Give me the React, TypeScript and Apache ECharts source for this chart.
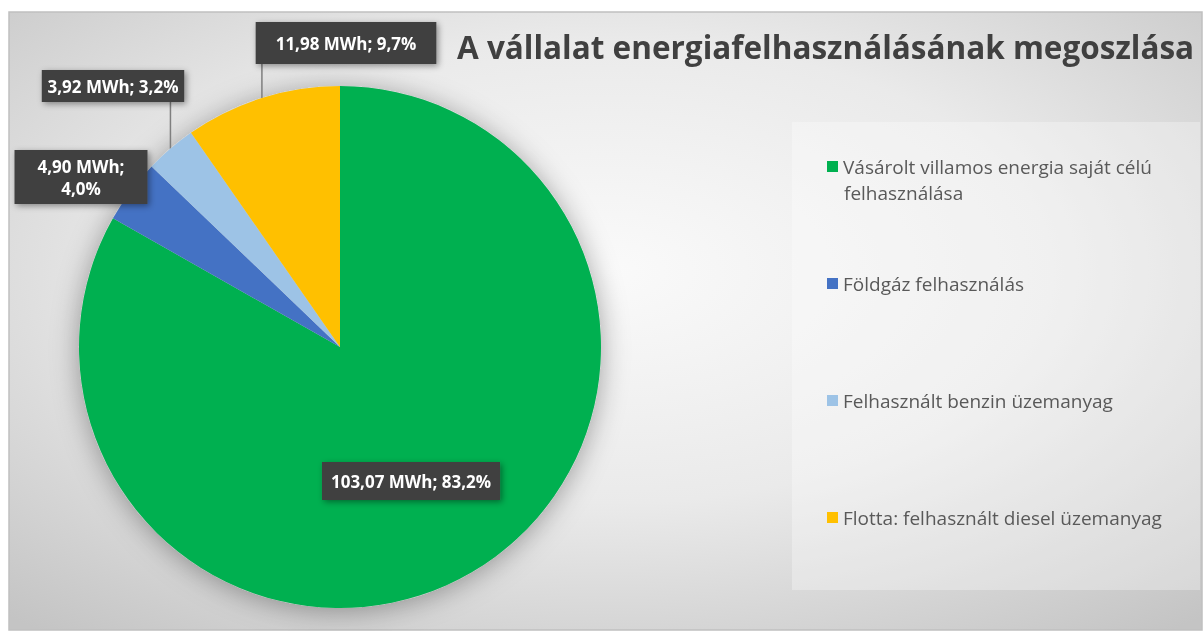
import React, { useEffect, useRef } from 'react';
import * as echarts from 'echarts';

const categories = [
  'Vásárolt villamos energia saját célú felhasználása',
  'Földgáz felhasználás',
  'Felhasznált benzin üzemanyag',
  'Flotta: felhasznált diesel üzemanyag',
];
const values = [103.07, 4.9, 3.92, 11.98];
const unit = 'MWh';
const titleText = 'A vállalat energiafelhasználásának megoszlása';
const legendFirstLine = 'Vásárolt villamos energia saját célú';
const legendSecondLine = 'felhasználása';

const colors = ['#00B050', '#4472C4', '#9DC3E6', '#FFC000'];
const labelCenters = [
  [411, 481],
  [81, 177],
  [113, 86],
  [346, 43],
];
const labelPaddings = [
  [8, 9],
  [5, 19],
  [5, 11],
  [10, 20],
];
const legendTops = [157, 274, 391, 508];
const FONT = 'Open Sans';

export default function App() {
  const ref = useRef<HTMLDivElement>(null);
  useEffect(() => {
    if (!ref.current) return;
    const chart = echarts.init(ref.current, null, { renderer: 'svg' });
    const total = values.reduce((a, b) => a + b, 0);
    const fmt = (p: any) => {
      const v = Number(p.value).toFixed(2).replace('.', ',');
      const pct = ((p.value / total) * 100).toFixed(1).replace('.', ',');
      return p.dataIndex === 1 ? `${v} ${unit};\n${pct}%` : `${v} ${unit}; ${pct}%`;
    };
    const option: any = {
      animation: false,
      graphic: [
        {
          type: 'rect',
          z: -10,
          shape: { x: 9, y: 12, width: 1193, height: 618 },
          style: {
            fill: {
              type: 'radial', x: 0.5, y: 0.42, r: 0.75,
              colorStops: [
                { offset: 0, color: '#FAFAFA' },
                { offset: 0.5, color: '#EAEAEA' },
                { offset: 1, color: '#C4C4C4' },
              ],
            },
            stroke: '#C0C0C0', lineWidth: 1.5,
          },
          silent: true,
        },
        {
          type: 'rect',
          z: -9,
          shape: { x: 792, y: 122, width: 408, height: 468 },
          style: { fill: 'rgba(255,255,255,0.3)' },
          silent: true,
        },
        {
          type: 'text',
          left: 844,
          top: 183,
          style: { text: legendSecondLine, fontSize: 19, fontFamily: FONT, fill: '#595959' },
          silent: true,
        },
      ],
      title: {
        text: titleText,
        left: 452,
        top: 25,
        textStyle: { fontSize: 31.5, fontWeight: 'bold', color: '#404040', fontFamily: FONT },
      },
      legend: categories.map((c, i) => ({
        data: [c],
        left: 827,
        top: legendTops[i],
        padding: 0,
        icon: 'rect',
        itemWidth: 11,
        itemHeight: 11,
        selectedMode: false,
        textStyle: { fontSize: 19, color: '#595959', fontFamily: FONT },
        formatter: i === 0 ? () => legendFirstLine : undefined,
      })),
      series: [
        {
          type: 'pie',
          silent: true,
          center: [340, 347],
          radius: 261,
          z: 1,
          label: { show: false },
          labelLine: { show: false },
          itemStyle: {
            color: '#D8D8D8',
            shadowBlur: 28,
            shadowColor: 'rgba(0,0,0,0.35)',
            shadowOffsetY: 3,
          },
          data: [{ value: 1, name: '__shadow' }],
        },
        {
          type: 'pie',
          center: [340, 347],
          radius: 261,
          startAngle: 90,
          clockwise: true,
          z: 2,
          color: colors,
          data: categories.map((c, i) => ({
            name: c,
            value: values[i],
            label: i === 0
              ? { position: 'inside', padding: labelPaddings[i] }
              : i === 1
                ? { padding: labelPaddings[i], width: 95 }
                : { padding: labelPaddings[i] },
            labelLine: { show: i === 2 || i === 3 },
          })),
          label: {
            show: true,
            formatter: fmt,
            color: '#FFFFFF',
            fontWeight: 'bold',
            fontSize: 17,
            fontFamily: FONT,
            lineHeight: 22,
            overflow: 'none',
            backgroundColor: '#404040',
            shadowBlur: 6,
            shadowColor: 'rgba(0,0,0,0.4)',
            shadowOffsetX: 2,
            shadowOffsetY: 2,
            align: 'center',
          },
          labelLine: {
            length: 10,
            length2: 10,
            lineStyle: { color: '#7F7F7F', width: 1.5 },
          },
          labelLayout: (params: any) => {
            const c = labelCenters[params.dataIndex];
            const res: any = { x: c[0], y: c[1], align: 'center', verticalAlign: 'middle' };
            const pts = params.labelLinePoints;
            if (pts && pts.length && (params.dataIndex === 2 || params.dataIndex === 3)) {
              const p0 = pts[0];
              const bottom = c[1] + params.labelRect.height / 2;
              res.labelLinePoints = [p0, [p0[0], bottom], [p0[0], bottom]];
            }
            return res;
          },
        },
      ],
    };
    chart.setOption(option);
    return () => chart.dispose();
  }, []);
  return (
    <div
      ref={ref}
      style={{ position: 'fixed', left: 0, top: 0, width: 1203, height: 631 }}
    />
  );
}
